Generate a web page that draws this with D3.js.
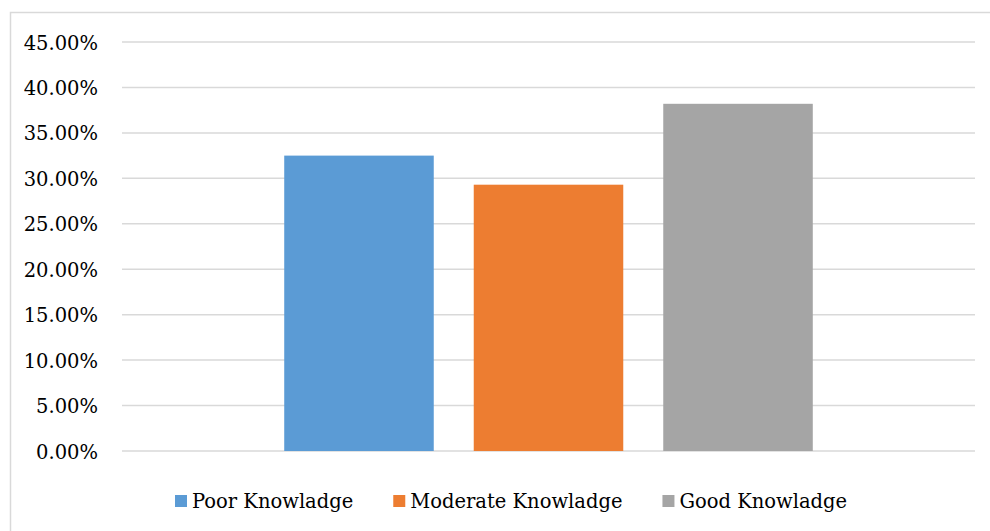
<!DOCTYPE html>
<html>
<head>
<meta charset="utf-8">
<script src="https://cdn.jsdelivr.net/npm/d3@7"></script>
<style>
  html, body { margin: 0; padding: 0; background: #fff; }
  svg { display: block; }
</style>
</head>
<body>
<svg id="chart" width="990" height="531"></svg>
<script>
const series = ["Poor Knowladge", "Moderate Knowladge", "Good Knowladge"];
const values = [0.325, 0.293, 0.382];
const colors = ["#5b9bd5", "#ed7d31", "#a5a5a5"];
const yTicks = [0, 0.05, 0.10, 0.15, 0.20, 0.25, 0.30, 0.35, 0.40, 0.45];

const FONT = "'DejaVu Serif', 'Liberation Serif', 'Times New Roman', serif";
const svg = d3.select("#chart");
const W = 990, H = 531;
const plot = { left: 122, right: 975, top: 42, bottom: 451 };

// chart frame
svg.append("rect")
  .attr("x", 10.5).attr("y", 12.5)
  .attr("width", W + 20).attr("height", H + 20)
  .attr("fill", "#fff").attr("stroke", "#d9d9d9").attr("stroke-width", 1.5);

const y = d3.scaleLinear().domain([0, 0.45]).range([plot.bottom, plot.top]);
const x = d3.scaleBand().domain(series)
  .range([plot.left, plot.right])
  .paddingInner(0.211).paddingOuter(0.856).align(0.5);

// gridlines
svg.append("g").selectAll("line").data(yTicks).join("line")
  .attr("x1", plot.left).attr("x2", plot.right)
  .attr("y1", d => y(d)).attr("y2", d => y(d))
  .attr("stroke", "#d9d9d9").attr("stroke-width", 1.5);

// y axis labels
const yAxis = d3.axisLeft(y).tickValues(yTicks)
  .tickFormat(d => (d * 100).toFixed(2) + "%").tickSize(0).tickPadding(0);
const ag = svg.append("g").attr("transform", `translate(98,0)`).call(yAxis);
ag.select(".domain").remove();
ag.selectAll("text")
  .style("font-family", FONT).style("font-size", "19.5px")
  .attr("fill", "#000").attr("dy", "0.36em");

// legend
const lg = svg.append("g");
let cx = 175;
series.forEach((s, i) => {
  lg.append("rect").attr("x", cx).attr("y", 495).attr("width", 12).attr("height", 12)
    .attr("fill", colors[i]);
  const t = lg.append("text").attr("x", cx + 17).attr("y", 508)
    .style("font-family", FONT).style("font-size", "19.5px")
    .attr("fill", "#000").text(s);
  const w = t.node().getComputedTextLength();
  cx = cx + 17 + w + 40;
});

// bars
svg.append("g").selectAll("rect").data(series).join("rect")
  .attr("x", d => x(d))
  .attr("width", x.bandwidth())
  .attr("y", (d, i) => y(values[i]))
  .attr("height", (d, i) => y(0) - y(values[i]))
  .attr("fill", (d, i) => colors[i]);
</script>
</body>
</html>
